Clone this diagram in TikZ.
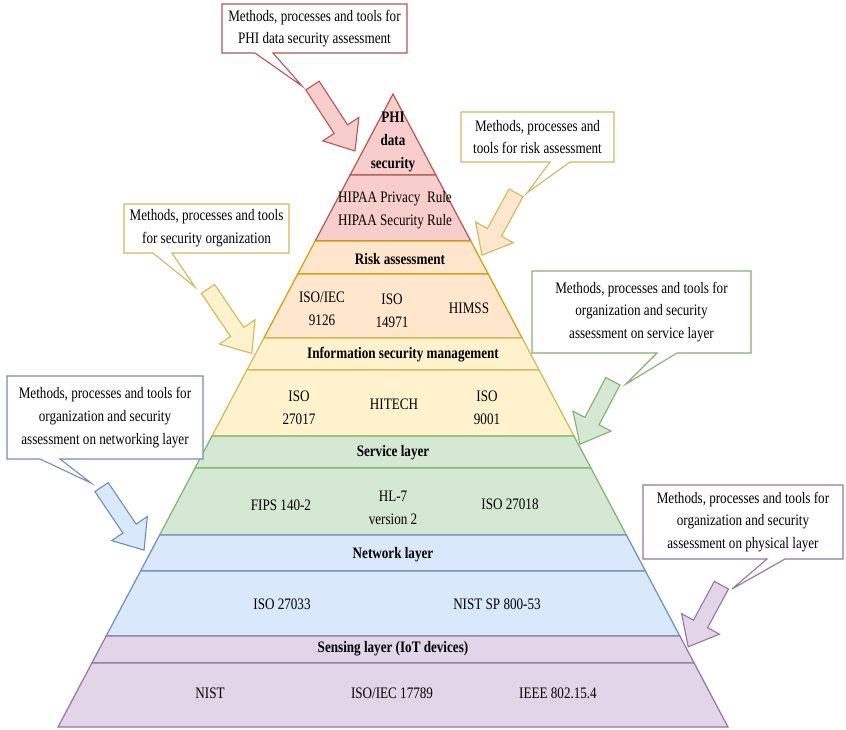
\documentclass[tikz,border=0pt]{standalone}
\usepackage{fontspec}
\setmainfont[FakeStretch=0.82]{Liberation Serif}
\definecolor{pinkF}{HTML}{F8CECC}\definecolor{pinkD}{HTML}{B85450}
\definecolor{oraF}{HTML}{FFE6CC}\definecolor{oraD}{HTML}{D79B00}
\definecolor{yelF}{HTML}{FFF2CC}\definecolor{yelD}{HTML}{D6B656}
\definecolor{grnF}{HTML}{D5E8D4}\definecolor{grnD}{HTML}{82B366}
\definecolor{bluF}{HTML}{DAE8FC}\definecolor{bluD}{HTML}{6C8EBF}
\definecolor{purF}{HTML}{E1D5E7}\definecolor{purD}{HTML}{9673A6}
\newcommand\pyrband[4]{%
  \draw[draw=#4, fill=#3, line width=1.2pt, line join=miter]
  ({393-0.5292*(#1-94)},#1) -- ({393+0.5292*(#1-94)},#1) --
  ({393+0.5292*(#2-94)},#2) -- ({393-0.5292*(#2-94)},#2) -- cycle;}
\newcommand\blockarrow[6]{%
  \begin{scope}[shift={(#1,#2)}, rotate=#3]
  \draw[draw=#6, fill=#5, line width=1.1pt, line join=miter]
   ({-#4/2},8) -- ({#4/2-26},8) -- ({#4/2-26},21.5) -- ({#4/2},0) --
   ({#4/2-26},-21.5) -- ({#4/2-26},-8) -- ({-#4/2},-8) -- cycle;
  \end{scope}}
\tikzset{
  lbl/.style={font=\fontsize{16}{22.7}\selectfont, align=center, inner sep=0pt},
  ttl/.style={font=\fontsize{16}{22.7}\selectfont\bfseries, align=center, inner sep=0pt},
  callbox/.style={draw=#1, fill=white, line width=1.1pt, line join=miter}
}
\begin{document}
\begin{tikzpicture}[x=1pt, y=-1pt]
\useasboundingbox (0,0) rectangle (846,729);
% pyramid
\draw[draw=pinkD, fill=pinkF, line width=1.2pt, line join=miter]
  (393,94) -- ({393+0.5292*81},175) -- ({393-0.5292*81},175) -- cycle;
\pyrband{175}{241}{pinkF}{pinkD}
\pyrband{241}{274}{oraF}{oraD}
\pyrband{274}{338}{oraF}{oraD}
\pyrband{338}{370}{yelF}{yelD}
\pyrband{370}{436}{yelF}{yelD}
\pyrband{436}{468}{grnF}{grnD}
\pyrband{468}{535}{grnF}{grnD}
\pyrband{535}{571}{bluF}{bluD}
\pyrband{571}{636}{bluF}{bluD}
\pyrband{636}{663}{purF}{purD}
\pyrband{663}{727}{purF}{purD}
% pyramid texts
\node[ttl] (phi) at (393,142) {PHI\\data\\security};
\node[lbl] (hipaa) at (395,210) {HIPAA Privacy\ \ Rule\\HIPAA Security Rule};
\node[ttl] (risk) at (400,259) {Risk assessment};
\node[lbl] (iec) at (322,309) {ISO/IEC\\9126};
\node[lbl] (i14971) at (392,311) {ISO\\14971};
\node[lbl] (himss) at (469,308) {HIMSS};
\node[ttl] (ism) at (403,355) {Information security management};
\node[lbl] (i27017) at (299,408) {ISO\\27017};
\node[lbl] (hitech) at (394,404) {HITECH};
\node[lbl] (i9001) at (487,408) {ISO\\9001};
\node[ttl] (service) at (393,453) {Service layer};
\node[lbl] (fips) at (281,505) {FIPS 140-2};
\node[lbl] (hl7) at (393,508) {HL-7\\version 2};
\node[lbl] (i27018) at (510,504) {ISO 27018};
\node[ttl] (network) at (393,555) {Network layer};
\node[lbl] (i27033) at (282,604) {ISO 27033};
\node[lbl] (nist800) at (497,604) {NIST SP 800-53};
\node[ttl] (sensing) at (393,649) {Sensing layer (IoT devices)};
\node[lbl] (nist) at (210,693) {NIST};
\node[lbl] (i17789) at (392,693) {ISO/IEC 17789};
\node[lbl] (ieee) at (558,693) {IEEE 802.15.4};
% block arrows
\blockarrow{333.75}{118.25}{-57}{78}{pinkF}{pinkD}
\blockarrow{499}{224}{-118.7}{71}{oraF}{yelD}
\blockarrow{229.9}{321.2}{-55.8}{78}{yelF}{yelD}
\blockarrow{596.4}{412.7}{-117.6}{71}{grnF}{grnD}
\blockarrow{122.8}{518.6}{-56}{76}{bluF}{bluD}
\blockarrow{704.8}{616}{-118.3}{70}{purF}{purD}
% callouts
\draw[callbox=pinkD] (222,4) -- (407,4) -- (407,53) -- (273,53) -- (302,86) -- (255,53) -- (222,53) -- cycle;
\node[lbl] (c1) at (314.5,28.5) {Methods, processes and tools for\\PHI data security assessment};
\draw[callbox=yelD] (461,112) -- (614,112) -- (614,162) -- (570,162) -- (527,193) -- (550,162) -- (461,162) -- cycle;
\node[lbl] (c2) at (537.5,137) {Methods, processes and\\tools for risk assessment};
\draw[callbox=yelD] (124,204) -- (289,204) -- (289,253) -- (172,253) -- (195,287) -- (153,253) -- (124,253) -- cycle;
\node[lbl] (c3) at (206.5,228.5) {Methods, processes and tools\\for security organization};
\draw[callbox=grnD] (532,271) -- (751,271) -- (751,353) -- (677,353) -- (626,384) -- (657,353) -- (532,353) -- cycle;
\node[lbl] (c4) at (641.5,312) {Methods, processes and tools for\\organization and security\\assessment on service layer};
\draw[callbox=bluD] (7,376) -- (203,376) -- (203,459) -- (60,459) -- (91,483) -- (40,459) -- (7,459) -- cycle;
\node[lbl] (c5) at (105,417.5) {Methods, processes and tools for\\organization and security\\assessment on networking layer};
\draw[callbox=purD] (643,485) -- (843,485) -- (843,559) -- (785,559) -- (732,589) -- (767,559) -- (643,559) -- cycle;
\node[lbl] (c6) at (743,522) {Methods, processes and tools for\\organization and security\\assessment on physical layer};
\end{tikzpicture}
\end{document}
